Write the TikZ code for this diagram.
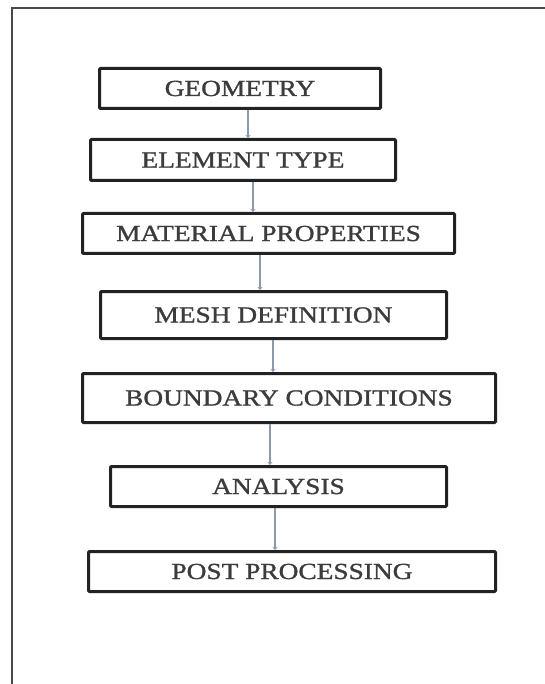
\documentclass[tikz,border=0pt]{standalone}
\usepackage{fontspec}
\setmainfont{Liberation Serif}[FakeStretch=1.19,FakeBold=1.2]
\usetikzlibrary{arrows.meta}
\definecolor{boxline}{HTML}{222222}
\definecolor{txt}{HTML}{3C3C3C}
\definecolor{conn}{HTML}{8A9AAA}
\definecolor{frame}{HTML}{4A4A4A}
\begin{document}
\begin{tikzpicture}[x=1pt,y=-1pt,
  stepbox/.style={draw=boxline, line width=3pt, rounded corners=1pt, inner sep=0pt,
    font=\fontsize{23}{23}\selectfont, text=txt, fill=white},
  link/.style={draw=conn, line width=1.3pt, -{Stealth[length=3pt,width=5pt]}}]
\useasboundingbox (0,0) rectangle (545,684);
\fill[white] (0,0) rectangle (545,684);
\draw[frame, line width=2pt] (12,684) -- (12,8) -- (545,8);

\node[stepbox, minimum width=281pt, minimum height=40pt] (geo) at (240,88.5) {GEOMETRY};
\node[stepbox, minimum width=305pt, minimum height=41pt] (elem) at (243,160) {ELEMENT TYPE};
\node[stepbox, minimum width=372pt, minimum height=40pt] (mat) at (268.5,233.5) {MATERIAL PROPERTIES};
\node[stepbox, minimum width=346pt, minimum height=47pt] (mesh) at (273.5,315) {MESH DEFINITION};
\node[stepbox, minimum width=413pt, minimum height=49pt] (bc) at (289,398) {BOUNDARY CONDITIONS};
\node[stepbox, minimum width=336pt, minimum height=40pt] (ana) at (278.5,486.5) {ANALYSIS};
\node[stepbox, minimum width=407pt, minimum height=40pt] (post) at (292,571.5) {POST PROCESSING};

\draw[link] (geo.south -| 248,0) -- (elem.north -| 248,0);
\draw[link] (elem.south -| 253,0) -- (mat.north -| 253,0);
\draw[link] (mat.south -| 260,0) -- (mesh.north -| 260,0);
\draw[link] (mesh.south -| 273,0) -- (bc.north -| 273,0);
\draw[link] (bc.south -| 270,0) -- (ana.north -| 270,0);
\draw[link] (ana.south -| 275,0) -- (post.north -| 275,0);
\end{tikzpicture}
\end{document}
